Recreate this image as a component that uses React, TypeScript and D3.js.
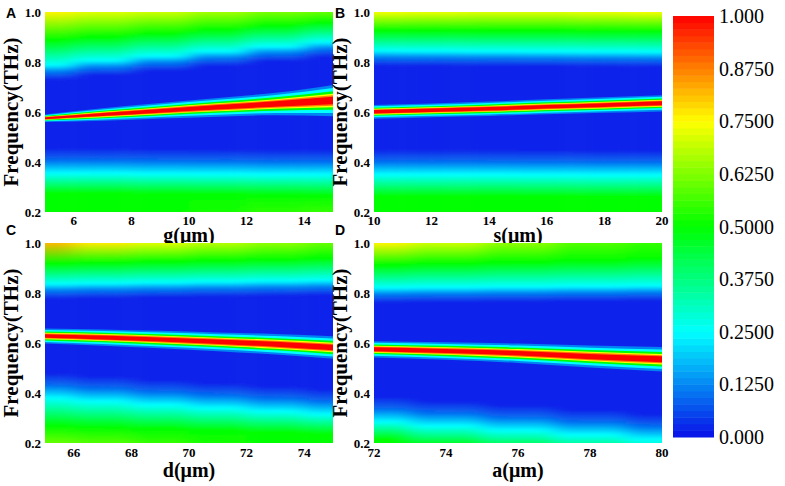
import { useEffect, useRef } from 'react';
import * as d3 from 'd3';

// shared axes
const freqTicks = [0.2, 0.4, 0.6, 0.8, 1.0];
const cbarTicks = [0, 0.125, 0.25, 0.375, 0.5, 0.625, 0.75, 0.875, 1];
const cbarLabels = ['0.000', '0.1250', '0.2500', '0.3750', '0.5000', '0.6250', '0.7500', '0.8750', '1.000'];

// A: g (um)
const gValues = [5, 7, 9, 11, 13, 15];
const gTicks = [6, 8, 10, 12, 14];
const gResonance = [0.575, 0.59, 0.605, 0.619, 0.632, 0.646];
const gLineWidth = [0.012, 0.02, 0.025, 0.03, 0.036, 0.05];
const gUpperCyan = [0.788, 0.806, 0.824, 0.843, 0.862, 0.88];
const gUpperGreen = [0.888, 0.9, 0.914, 0.928, 0.944, 0.958];
const gTop = [0.76, 0.72, 0.7, 0.66, 0.62, 0.6];
const gLowerCyan = [0.355, 0.355, 0.353, 0.352, 0.35, 0.35];
const gLowerGreen = [0.275, 0.275, 0.272, 0.27, 0.268, 0.265];
const gBottom = [0.5, 0.5, 0.5, 0.52, 0.54, 0.55];

// B: s (um)
const sValues = [10, 12, 14, 16, 18, 20];
const sTicks = [10, 12, 14, 16, 18, 20];
const sResonance = [0.601, 0.607, 0.613, 0.621, 0.628, 0.635];
const sLineWidth = [0.022, 0.022, 0.023, 0.024, 0.025, 0.026];
const sUpperCyan = [0.845, 0.844, 0.843, 0.842, 0.841, 0.84];
const sUpperGreen = [0.926, 0.926, 0.925, 0.925, 0.924, 0.924];
const sTop = [0.74, 0.73, 0.72, 0.72, 0.73, 0.74];
const sLowerCyan = [0.35, 0.35, 0.35, 0.349, 0.348, 0.348];
const sLowerGreen = [0.262, 0.262, 0.262, 0.261, 0.26, 0.26];
const sBottom = [0.5, 0.5, 0.5, 0.5, 0.5, 0.5];

// C: d (um)
const dValues = [65, 67, 69, 71, 73, 75];
const dTicks = [66, 68, 70, 72, 74];
const dResonance = [0.628, 0.622, 0.614, 0.605, 0.595, 0.582];
const dLineWidth = [0.024, 0.026, 0.028, 0.03, 0.033, 0.036];
const dUpperCyan = [0.836, 0.839, 0.842, 0.845, 0.848, 0.851];
const dUpperGreen = [0.918, 0.921, 0.925, 0.929, 0.934, 0.94];
const dTop = [0.82, 0.77, 0.72, 0.68, 0.64, 0.6];
const dLowerCyan = [0.38, 0.367, 0.353, 0.34, 0.327, 0.315];
const dLowerGreen = [0.27, 0.263, 0.256, 0.249, 0.242, 0.236];
const dBottom = [0.6, 0.58, 0.55, 0.52, 0.5, 0.5];

// D: a (um)
const aValues = [72, 74, 76, 78, 80];
const aTicks = [72, 74, 76, 78, 80];
const aResonance = [0.575, 0.568, 0.559, 0.546, 0.535];
const aLineWidth = [0.026, 0.028, 0.031, 0.035, 0.039];
const aUpperCyan = [0.821, 0.823, 0.825, 0.827, 0.829];
const aUpperGreen = [0.912, 0.918, 0.924, 0.93, 0.937];
const aTop = [0.76, 0.7, 0.64, 0.58, 0.55];
const aLowerCyan = [0.285, 0.268, 0.251, 0.233, 0.215];
const aLowerGreen = [0.215, 0.198, 0.182, 0.166, 0.15];
const aBottom = [0.5, 0.46, 0.4, 0.34, 0.28];

const panels = [
  { letter: 'A', title: 'g(μm)', left: 45, top: 12, tickGap: 12.5, titleGap: 30, x: gValues, ticks: gTicks, res: gResonance, wid: gLineWidth, upC: gUpperCyan, upG: gUpperGreen, topV: gTop, loC: gLowerCyan, loG: gLowerGreen, botV: gBottom },
  { letter: 'B', title: 's(μm)', left: 374, top: 12, tickGap: 12.5, titleGap: 30, x: sValues, ticks: sTicks, res: sResonance, wid: sLineWidth, upC: sUpperCyan, upG: sUpperGreen, topV: sTop, loC: sLowerCyan, loG: sLowerGreen, botV: sBottom },
  { letter: 'C', title: 'd(μm)', left: 45, top: 243, tickGap: 14, titleGap: 34, x: dValues, ticks: dTicks, res: dResonance, wid: dLineWidth, upC: dUpperCyan, upG: dUpperGreen, topV: dTop, loC: dLowerCyan, loG: dLowerGreen, botV: dBottom },
  { letter: 'D', title: 'a(μm)', left: 374, top: 243, tickGap: 14, titleGap: 34, x: aValues, ticks: aTicks, res: aResonance, wid: aLineWidth, upC: aUpperCyan, upG: aUpperGreen, topV: aTop, loC: aLowerCyan, loG: aLowerGreen, botV: aBottom },
];

const serif = '"Liberation Serif", "Times New Roman", serif';
const sans = '"Liberation Sans", Arial, sans-serif';

const colour = d3.scaleLinear<string>()
  .domain([0, 0.25, 0.5, 0.75, 1])
  .range(['#0a10e8', '#00ffff', '#00ff00', '#ffff00', '#ff0000'])
  .clamp(true);

export default function App() {
  const svgRef = useRef<SVGSVGElement>(null);

  useEffect(() => {
    if (!svgRef.current) return;
    document.body.style.margin = '0';
    const svg = d3.select(svgRef.current);
    svg.selectAll('*').remove();

    const W = 288;
    const H = 200;
    const defs = svg.append('defs');

    defs.append('filter').attr('id', 'blurBg')
      .attr('x', '-20%').attr('y', '-20%').attr('width', '140%').attr('height', '140%')
      .append('feGaussianBlur').attr('stdDeviation', '10 1');
    defs.append('filter').attr('id', 'blurLine')
      .attr('x', '-20%').attr('y', '-20%').attr('width', '140%').attr('height', '140%')
      .append('feGaussianBlur').attr('stdDeviation', '0.7');

    panels.forEach((p) => {
      const x = d3.scaleLinear().domain([p.x[0], p.x[p.x.length - 1]]).range([p.left, p.left + W]);
      const y = d3.scaleLinear().domain([0.2, 1.0]).range([p.top + H, p.top]);

      defs.append('clipPath').attr('id', `clip-${p.letter}`)
        .append('rect').attr('x', p.left).attr('y', p.top).attr('width', W).attr('height', H);

      // background spectrum, one gradient strip per sampled column
      const bg = svg.append('g').attr('clip-path', `url(#clip-${p.letter})`)
        .append('g').attr('filter', 'url(#blurBg)');

      p.x.forEach((xv, i) => {
        const stops: [number, number][] = [[0.2, p.botV[i]]];
        if (p.loG[i] > 0.2) stops.push([p.loG[i], 0.5]);
        stops.push([p.loC[i], 0.25]);
        stops.push([p.loC[i] + 0.05, 0.1]);
        stops.push([p.loC[i] + 0.1, 0.02]);
        stops.push([p.upC[i] - 0.06, 0.02]);
        stops.push([p.upC[i] - 0.025, 0.12]);
        stops.push([p.upC[i], 0.25]);
        stops.push([p.upG[i], 0.5]);
        stops.push([1.0, p.topV[i]]);

        const id = `bg-${p.letter}-${i}`;
        const grad = defs.append('linearGradient').attr('id', id)
          .attr('gradientUnits', 'userSpaceOnUse')
          .attr('x1', 0).attr('x2', 0)
          .attr('y1', y(0.2)).attr('y2', y(1.0));
        stops.forEach(([f, v]) => {
          grad.append('stop')
            .attr('offset', (f - 0.2) / 0.8)
            .attr('stop-color', colour(v));
        });

        const x0 = i === 0 ? p.left - 40 : (x(p.x[i - 1]) + x(xv)) / 2;
        const x1 = i === p.x.length - 1 ? p.left + W + 40 : (x(xv) + x(p.x[i + 1])) / 2;
        bg.append('rect')
          .attr('x', x0).attr('y', p.top - 8)
          .attr('width', x1 - x0).attr('height', H + 16)
          .attr('fill', `url(#${id})`);
      });

      // resonance line, nested bands of rising level
      const cols = p.x.map((xv, i) => ({ x: xv, f: p.res[i], w: p.wid[i] }));
      const levels = [0.12, 0.25, 0.5, 0.75, 0.875, 1];
      const spread = [1.25, 1, 0.74, 0.54, 0.42, 0.3];
      const lineG = svg.append('g').attr('clip-path', `url(#clip-${p.letter})`)
        .append('g').attr('filter', 'url(#blurLine)');
      levels.forEach((lv, k) => {
        const area = d3.area<any>()
          .x(d => x(d.x))
          .y0(d => y(d.f - d.w * spread[k]))
          .y1(d => y(d.f + d.w * spread[k]))
          .curve(d3.curveMonotoneX);
        lineG.append('path').datum(cols).attr('d', area).attr('fill', colour(lv));
      });

      // y tick labels
      svg.append('g').selectAll('text').data(freqTicks).enter().append('text')
        .attr('x', p.left - 4).attr('y', d => y(d)).attr('dy', '0.35em')
        .attr('text-anchor', 'end')
        .style('font-family', serif).style('font-weight', 'bold').style('font-size', '13px')
        .text(d => d.toFixed(1));

      // x tick labels
      svg.append('g').selectAll('text').data(p.ticks).enter().append('text')
        .attr('x', d => x(d)).attr('y', p.top + H + p.tickGap)
        .attr('text-anchor', 'middle')
        .style('font-family', serif).style('font-weight', 'bold').style('font-size', '13px')
        .text(d => String(d));

      // axis titles
      svg.append('text')
        .attr('x', p.left + W / 2).attr('y', p.top + H + p.titleGap)
        .attr('text-anchor', 'middle')
        .style('font-family', serif).style('font-weight', 'bold').style('font-size', '20px')
        .text(p.title);

      svg.append('text')
        .attr('transform', `translate(${p.left - 27},${p.top + H / 2}) rotate(-90)`)
        .attr('text-anchor', 'middle')
        .style('font-family', serif).style('font-weight', 'bold').style('font-size', '21px')
        .text('Frequency(THz)');

      svg.append('text')
        .attr('x', p.left - 39).attr('y', p.top < 100 ? 18 : 235)
        .style('font-family', sans).style('font-weight', 'bold').style('font-size', '14px')
        .text(p.letter);
    });

    // colour bar
    const cb = { left: 673, top: 16, width: 41, height: 421 };
    const cy = d3.scaleLinear().domain([0, 1]).range([cb.top + cb.height, cb.top]);
    const steps = d3.range(64);
    svg.append('g').selectAll('rect').data(steps).enter().append('rect')
      .attr('x', cb.left)
      .attr('y', d => cy((d + 1) / 64))
      .attr('width', cb.width)
      .attr('height', cb.height / 64 + 0.5)
      .attr('fill', d => colour((d + 0.5) / 64));

    svg.append('g').selectAll('text').data(cbarTicks).enter().append('text')
      .attr('x', cb.left + cb.width + 5).attr('y', d => cy(d)).attr('dy', '0.35em')
      .style('font-family', serif).style('font-size', '20px')
      .text((_, i) => cbarLabels[i]);
  }, []);

  return <svg ref={svgRef} width={785} height={486} style={{ display: 'block', background: '#fff' }} />;
}
